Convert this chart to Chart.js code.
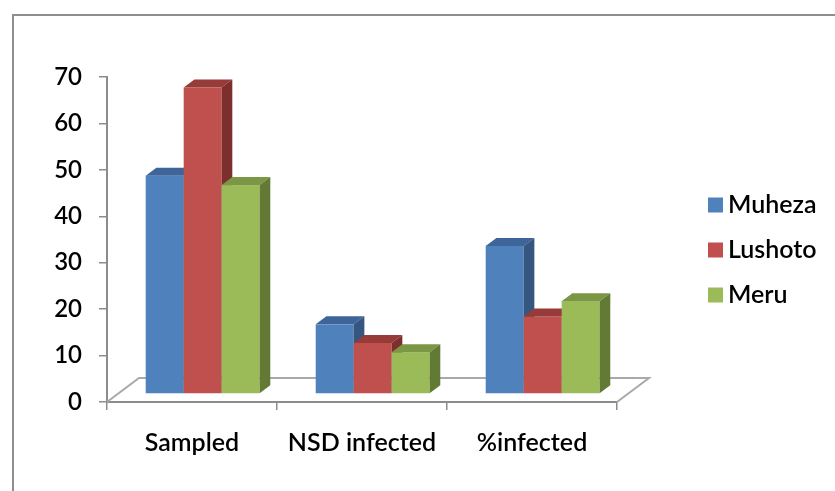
<!DOCTYPE html>
<html>
<head>
<meta charset="utf-8">
<script src="https://cdn.jsdelivr.net/npm/chart.js@4.4.1/dist/chart.umd.min.js"></script>
<style>
  html, body { margin: 0; padding: 0; background: #ffffff; }
  #wrap { width: 835px; height: 491px; }
</style>
</head>
<body>
<div id="wrap"><canvas id="chart" width="835" height="491"></canvas></div>
<script>
// Survey results per district
const categories = ['Sampled', 'NSD infected', '%infected'];
const muheza  = [47, 15, 31.9];
const lushoto = [66, 11, 16.7];
const meru    = [45, 9, 20.0];
const seriesNames = ['Muheza', 'Lushoto', 'Meru'];

// Front, top and side shades of each series
const frontColors = ['#4F81BD', '#C0504D', '#9BBB59'];
const topColors   = ['#3E6599', '#973B39', '#7B9644'];
const sideColors  = ['#35567F', '#7D2F2D', '#637A35'];

const FONT = 'Lato, "Liberation Sans", sans-serif';
const FONT_WEIGHT = '600';
const AXIS_GREY = '#8c8c8c';
const FLOOR_DX = 32, FLOOR_DY = -24;   // depth of the floor plane

// Draws the floor and the 3D columns from the bar elements
const columns3d = {
  id: 'columns3d',
  beforeDatasetsDraw(chart) {
    const ctx = chart.ctx;
    const area = chart.chartArea;
    const y0 = chart.scales.y.getPixelForValue(0);
    ctx.save();
    // floor outline
    ctx.strokeStyle = '#a9a9a9';
    ctx.lineWidth = 2;
    ctx.beginPath();
    ctx.moveTo(area.left, y0);
    ctx.lineTo(area.left + FLOOR_DX, y0 + FLOOR_DY);
    ctx.lineTo(area.right + FLOOR_DX, y0 + FLOOR_DY);
    ctx.lineTo(area.right, y0);
    ctx.stroke();

    const fx = FLOOR_DX / 3, fy = FLOOR_DY / 3;   // front face sits a third into the depth
    const dx = FLOOR_DX / 3, dy = FLOOR_DY / 3;   // column depth
    const metas = chart.data.datasets.map((d, i) => chart.getDatasetMeta(i));
    for (let c = 0; c < categories.length; c++) {
      metas.forEach((meta, s) => {
        const el = meta.data[c];
        const L = el.x - el.width / 2 + fx;
        const R = el.x + el.width / 2 + fx;
        const T = el.y + fy;
        const B = el.base + fy;
        // front
        ctx.fillStyle = frontColors[s];
        ctx.fillRect(L, T, R - L, B - T);
        // top
        ctx.fillStyle = topColors[s];
        ctx.beginPath();
        ctx.moveTo(L, T); ctx.lineTo(R, T);
        ctx.lineTo(R + dx, T + dy); ctx.lineTo(L + dx, T + dy);
        ctx.closePath(); ctx.fill();
        // side
        ctx.fillStyle = sideColors[s];
        ctx.beginPath();
        ctx.moveTo(R, T); ctx.lineTo(R + dx, T + dy);
        ctx.lineTo(R + dx, B + dy); ctx.lineTo(R, B);
        ctx.closePath(); ctx.fill();
      });
    }
    ctx.restore();
    return false;
  },
  beforeDraw(chart) {
    const ctx = chart.ctx;
    ctx.save();
    ctx.fillStyle = '#ffffff';
    ctx.fillRect(0, 0, chart.width, chart.height);
    ctx.strokeStyle = '#8e8e8e';
    ctx.lineWidth = 2;
    ctx.strokeRect(13, 15, chart.width + 20, chart.height + 20);
    ctx.restore();
  },
  afterDraw(chart) {
    // legend
    const ctx = chart.ctx;
    ctx.save();
    ctx.font = FONT_WEIGHT + ' 25px ' + FONT;
    ctx.textBaseline = 'middle';
    ctx.textAlign = 'left';
    seriesNames.forEach((name, i) => {
      const cy = 205 + i * 45;
      ctx.fillStyle = frontColors[i];
      ctx.fillRect(708, cy - 7.5, 15, 15);
      ctx.fillStyle = '#000000';
      ctx.fillText(name, 728, cy);
    });
    ctx.restore();
  }
};

new Chart(document.getElementById('chart'), {
  type: 'bar',
  data: {
    labels: categories,
    datasets: [
      { label: seriesNames[0], data: muheza,  backgroundColor: frontColors[0] },
      { label: seriesNames[1], data: lushoto, backgroundColor: frontColors[1] },
      { label: seriesNames[2], data: meru,    backgroundColor: frontColors[2] }
    ]
  },
  options: {
    responsive: false,
    animation: false,
    events: [],
    categoryPercentage: 0.67,
    barPercentage: 1.0,
    layout: { padding: { left: 0, top: 77, right: 218, bottom: 0 } },
    plugins: { legend: { display: false }, tooltip: { enabled: false } },
    scales: {
      x: {
        grid: { drawOnChartArea: false, offset: true, tickLength: 8, color: AXIS_GREY, lineWidth: 1.5 },
        border: { color: AXIS_GREY, width: 2 },
        ticks: { color: '#000000', font: { family: FONT, size: 25, weight: FONT_WEIGHT }, padding: 18, maxRotation: 0 },
        afterFit(scale) { scale.height = 89; }
      },
      y: {
        min: 0, max: 70,
        grid: { drawOnChartArea: false, tickLength: 8, color: AXIS_GREY, lineWidth: 1.5 },
        border: { color: AXIS_GREY, width: 2 },
        ticks: { stepSize: 10, color: '#000000', font: { family: FONT, size: 24, weight: FONT_WEIGHT }, padding: 17 },
        afterFit(scale) { scale.width = 107; }
      }
    }
  },
  plugins: [columns3d]
});
</script>
</body>
</html>
